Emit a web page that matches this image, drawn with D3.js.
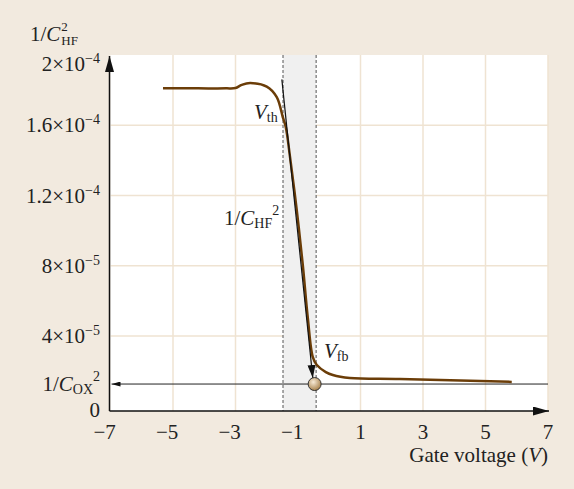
<!DOCTYPE html>
<html>
<head>
<meta charset="utf-8">
<script src="https://cdn.jsdelivr.net/npm/d3@7"></script>
<style>
  body { margin: 0; background: #f2eadf; }
  svg text { font-family: "Liberation Serif", "DejaVu Serif", serif; fill: #222; }
</style>
</head>
<body>
<div id="chart"></div>
<script>
// data
var xTicks = [-7, -5, -3, -1, 1, 3, 5, 7];
var yTicks = [4e-5, 8e-5, 1.2e-4, 1.6e-4, 2e-4];
var yTickMant = ["4", "8", "1.2", "1.6", "2"];
var yTickExp = ["−5", "−5", "−4", "−4", "−4"];
var gateV = [-5.32, -4.2, -3.3, -3.0, -2.8, -2.53, -2.0, -1.68, -1.485, -1.39, -1.262, -1.04, -0.846, -0.686, -0.526, -0.398, -0.11, 0.114, 0.657, 2.26, 5.84];
var invC2 = [1.81e-4, 1.81e-4, 1.81e-4, 1.812e-4, 1.83e-4, 1.84e-4, 1.82e-4, 1.76e-4, 1.645e-4, 1.589e-4, 1.429e-4, 1.117e-4, 8.04e-5, 5.03e-5, 2.8e-5, 2.35e-5, 1.95e-5, 1.78e-5, 1.61e-5, 1.55e-5, 1.39e-5];
var tangentV = [-1.517, -0.526];
var tangentY = [1.861e-4, 1.61e-5];
var vth = -1.48, vfb = -0.42, invCox2 = 1.268e-5;

var W = 574, H = 489, FS = 21, SS = 14;
var svg = d3.select("#chart").append("svg").attr("width", W).attr("height", H);
svg.append("rect").attr("width", W).attr("height", H).attr("fill", "#f2eadf");

var x = d3.scaleLinear().domain([-7, 7]).range([110.5, 548]);
var y = d3.scaleLinear().domain([-2.67e-6, 2e-4]).range([411, 55]);
var yMin = y.domain()[0];

var defs = svg.append("defs");
function arrow(id, len, wid) {
  defs.append("marker").attr("id", id).attr("markerUnits", "userSpaceOnUse")
    .attr("viewBox", "0 0 " + len + " " + wid).attr("refX", len).attr("refY", wid / 2)
    .attr("markerWidth", len).attr("markerHeight", wid).attr("orient", "auto")
    .append("path").attr("d", "M0,0L" + len + "," + (wid / 2) + "L0," + wid + "Z").attr("fill", "#111");
}
arrow("ax", 16, 9);
arrow("sm", 9, 5);
arrow("tg", 13, 8);
var grad = defs.append("radialGradient").attr("id", "ball").attr("cx", "40%").attr("cy", "35%").attr("r", "65%");
grad.append("stop").attr("offset", "0%").attr("stop-color", "#f7ead6");
grad.append("stop").attr("offset", "100%").attr("stop-color", "#a9844f");

// plot area
svg.append("rect").attr("x", x(-7)).attr("y", y(2e-4))
  .attr("width", x(7) - x(-7)).attr("height", y(yMin) - y(2e-4)).attr("fill", "#fff");

// grid
svg.append("g").selectAll("line").data(xTicks.slice(1)).enter().append("line")
  .attr("x1", function(d) { return x(d); }).attr("x2", function(d) { return x(d); })
  .attr("y1", y(2e-4)).attr("y2", y(yMin)).attr("stroke", "#efe3d2").attr("stroke-width", 1.5);
svg.append("g").selectAll("line").data(yTicks.slice(0, -1)).enter().append("line")
  .attr("x1", x(-7)).attr("x2", x(7))
  .attr("y1", function(d) { return y(d); }).attr("y2", function(d) { return y(d); })
  .attr("stroke", "#efe3d2").attr("stroke-width", 1.5);

// shaded band between Vth and Vfb
svg.append("rect").attr("x", x(vth)).attr("y", y(2e-4))
  .attr("width", x(vfb) - x(vth)).attr("height", y(yMin) - y(2e-4)).attr("fill", "#f0f0f0");
svg.append("g").selectAll("line").data([vth, vfb]).enter().append("line")
  .attr("x1", function(d) { return x(d); }).attr("x2", function(d) { return x(d); })
  .attr("y1", y(2e-4)).attr("y2", y(yMin))
  .attr("stroke", "#555").attr("stroke-width", 1).attr("stroke-dasharray", "3,2");

// 1/Cox^2 line
svg.append("line").attr("x1", x(7)).attr("x2", x(-7) + 1)
  .attr("y1", y(invCox2)).attr("y2", y(invCox2))
  .attr("stroke", "#222").attr("stroke-width", 1).attr("marker-end", "url(#sm)");

// curve
var pts = gateV.map(function(v, i) { return [v, invC2[i]]; });
svg.append("path").datum(pts)
  .attr("d", d3.line().x(function(d) { return x(d[0]); }).y(function(d) { return y(d[1]); }).curve(d3.curveCatmullRom.alpha(0.5)))
  .attr("fill", "none").attr("stroke", "#6b3d08").attr("stroke-width", 2.5);

// tangent
svg.append("line").attr("x1", x(tangentV[0])).attr("y1", y(tangentY[0]))
  .attr("x2", x(tangentV[1])).attr("y2", y(tangentY[1]))
  .attr("stroke", "#111").attr("stroke-width", 1.2).attr("marker-end", "url(#tg)");

svg.append("circle").attr("cx", x(vfb) - 1.5).attr("cy", y(invCox2)).attr("r", 6.5)
  .attr("fill", "url(#ball)").attr("stroke", "#333").attr("stroke-width", 1);

// axes
svg.append("line").attr("x1", x(-7) - 1).attr("x2", x(-7) - 1).attr("y1", y(yMin)).attr("y2", y(2e-4) + 1)
  .attr("stroke", "#111").attr("stroke-width", 1.5).attr("marker-end", "url(#ax)");
svg.append("line").attr("x1", x(-7) - 1).attr("x2", x(7) + 1).attr("y1", y(yMin)).attr("y2", y(yMin))
  .attr("stroke", "#111").attr("stroke-width", 1.5).attr("marker-end", "url(#ax)");

// x tick labels (digit centred on tick)
svg.append("g").selectAll("text").data(xTicks).enter().append("text")
  .attr("x", function(d) { return x(d) + 5.3; }).attr("y", 439)
  .attr("text-anchor", "end").attr("font-size", FS)
  .text(function(d) { return d < 0 ? "−" + (-d) : d; });

// y tick labels (top one pushed down a little, as in the original)
var yl = svg.append("g").selectAll("text").data(yTicks).enter().append("text")
  .attr("x", 100).attr("y", function(d) { return Math.max(y(d), 64) + 7; })
  .attr("text-anchor", "end").attr("font-size", FS);
yl.append("tspan").text(function(d, i) { return yTickMant[i] + "×10"; });
yl.append("tspan").attr("dy", -8).attr("font-size", SS).text(function(d, i) { return yTickExp[i]; });

svg.append("text").attr("x", 100).attr("y", y(yMin) + 6).attr("text-anchor", "end")
  .attr("font-size", FS).text("0");

var cl = svg.append("text").attr("x", 100).attr("y", y(invCox2) + 7).attr("text-anchor", "end").attr("font-size", FS);
cl.append("tspan").text("1/");
cl.append("tspan").attr("font-style", "italic").text("C");
cl.append("tspan").attr("font-size", SS).attr("dy", 3).text("OX");
cl.append("tspan").attr("font-size", SS).attr("dy", -13).text("2");

// top y title: 1/C with stacked 2 and HF
var t1 = svg.append("text").attr("x", 30).attr("y", 41).attr("font-size", FS);
t1.append("tspan").text("1/");
t1.append("tspan").attr("font-style", "italic").text("C");
var tw = t1.node().getComputedTextLength();
svg.append("text").attr("x", 30 + tw + 1).attr("y", 31).attr("font-size", 13).text("2");
svg.append("text").attr("x", 30 + tw + 1).attr("y", 45).attr("font-size", 13).text("HF");

// annotations
var mid = svg.append("text").attr("x", 224).attr("y", 225).attr("font-size", FS);
mid.append("tspan").text("1/");
mid.append("tspan").attr("font-style", "italic").text("C");
mid.append("tspan").attr("font-size", SS).attr("dy", 3).text("HF");
mid.append("tspan").attr("font-size", SS).attr("dy", -13).text("2");

var th = svg.append("text").attr("x", 254).attr("y", 119).attr("font-size", FS);
th.append("tspan").attr("font-style", "italic").text("V");
th.append("tspan").attr("font-size", SS).attr("dy", 3).text("th");

var fb = svg.append("text").attr("x", 324).attr("y", 358).attr("font-size", FS);
fb.append("tspan").attr("font-style", "italic").text("V");
fb.append("tspan").attr("font-size", SS).attr("dy", 3).text("fb");

var xl = svg.append("text").attr("x", 548).attr("y", 462).attr("text-anchor", "end").attr("font-size", FS);
xl.append("tspan").text("Gate voltage (");
xl.append("tspan").attr("font-style", "italic").text("V");
xl.append("tspan").text(")");
</script>
</body>
</html>
